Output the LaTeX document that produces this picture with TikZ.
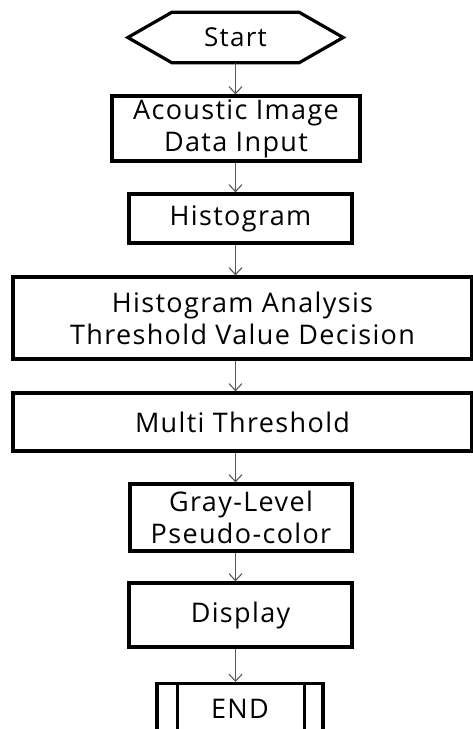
\documentclass[tikz,border=0pt]{standalone}
\usepackage{fontspec}
\setmainfont[LetterSpace=5]{Open Sans}
\usepackage{tikz}
\usetikzlibrary{arrows.meta}

\begin{document}
\begin{tikzpicture}[x=1pt, y=-1pt,
        stepbox/.style={draw, line width=3.2pt, align=center, inner sep=0pt,
            font=\fontsize{27}{32}\selectfont},
        flow/.style={draw=black!65, line width=1.1pt,
            -{Straight Barb[length=7pt,width=13pt,line width=1.1pt]}}]
        % Fix the page size
            \useasboundingbox (0,0) rectangle (473,729);

        % Draw the start hexagon
            \node[minimum width=215pt, minimum height=50pt, inner sep=0pt,
                font=\fontsize{26}{32}\selectfont] (start) at (235.5,37.5) {Start};
            \draw[line width=3.2pt] (start.west) -- ([xshift=44pt]start.north west)
                -- ([xshift=-44pt]start.north east) -- (start.east)
                -- ([xshift=-44pt]start.south east) -- ([xshift=44pt]start.south west) -- cycle;

        % Draw the process boxes
            \node[stepbox, minimum width=248pt, minimum height=65pt] (input) at (236,128.5) {Acoustic Image\\Data Input};
            \node[stepbox, minimum width=223pt, minimum height=49pt] (hist) at (240.5,218.5) {Histogram};
            \node[stepbox, minimum width=459pt, minimum height=82pt] (analysis) at (242.5,318) {Histogram Analysis\\Threshold Value Decision};
            \node[stepbox, minimum width=459pt, minimum height=58pt] (multi) at (242.5,422) {Multi Threshold};
            \node[stepbox, minimum width=222pt, minimum height=67pt] (pseudo) at (241,517.5) {Gray-Level\\Pseudo-color};
            \node[stepbox, minimum width=223pt, minimum height=64pt] (display) at (240.5,615) {Display};

        % Draw the end box
            \node[stepbox, minimum width=166pt, minimum height=50pt, anchor=north] (finish) at (240,682) {END};
            \draw[line width=3.2pt] ([xshift=22pt]finish.north west) -- ([xshift=22pt]finish.south west);
            \draw[line width=3.2pt] ([xshift=-20pt]finish.north east) -- ([xshift=-20pt]finish.south east);

        % Draw the arrows
            \foreach \a/\b in {start/input, input/hist, hist/analysis, analysis/multi,
                multi/pseudo, pseudo/display, display/finish}
                \draw[flow] (\a.south -| start) -- (\b.north -| start);
    \end{tikzpicture}
\end{document}
